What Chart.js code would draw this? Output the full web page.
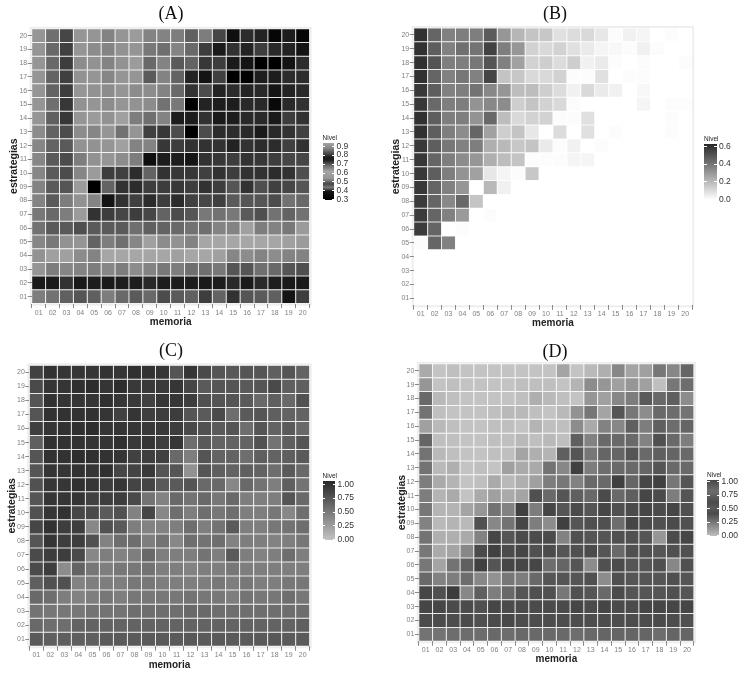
<!DOCTYPE html>
<html>
<head>
<meta charset="utf-8">
<title>Nivel</title>
<script src="https://cdn.jsdelivr.net/npm/chart.js@4"></script>
<style>
  html, body { margin: 0; padding: 0; background: #fff; overflow: hidden; }
  #page { position: relative; width: 747px; height: 677px; }
  canvas { position: absolute; filter: blur(0.7px); }
  .legend { position: absolute; font-family: "Liberation Sans", sans-serif; color: #222; filter: blur(0.4px); }
  .legend span { position: absolute; white-space: nowrap; }
  .legend i { position: absolute; background: #fff; height: 1px; width: 2.5px; }
</style>
</head>
<body>
<div id="page"></div>
<script>
var memoria = ['01','02','03','04','05','06','07','08','09','10','11','12','13','14','15','16','17','18','19','20'];
var estrategias = memoria.slice();

// rows go from estrategias 20 (top) down to 01
var nivelA = [
  [.81,.68,.54,.81,.81,.75,.81,.83,.75,.75,.73,.63,.73,.54,.35,.45,.42,.32,.40,.32],
  [.81,.66,.52,.81,.78,.75,.80,.81,.71,.68,.75,.66,.51,.39,.47,.42,.51,.44,.42,.37],
  [.81,.66,.51,.78,.80,.75,.80,.83,.66,.75,.61,.64,.49,.51,.39,.37,.30,.30,.37,.45],
  [.81,.64,.52,.80,.81,.76,.81,.81,.61,.75,.64,.42,.37,.52,.30,.30,.40,.40,.45,.45],
  [.81,.64,.51,.81,.80,.78,.81,.78,.78,.75,.66,.47,.56,.42,.45,.42,.44,.37,.42,.44],
  [.81,.68,.49,.80,.81,.78,.81,.80,.78,.69,.71,.30,.42,.40,.40,.44,.44,.33,.44,.47],
  [.81,.63,.49,.81,.83,.80,.85,.73,.68,.75,.40,.40,.47,.39,.40,.44,.44,.39,.51,.47],
  [.78,.64,.56,.78,.76,.81,.69,.81,.52,.49,.56,.30,.56,.45,.45,.44,.39,.44,.47,.52],
  [.76,.64,.61,.80,.80,.81,.85,.75,.75,.49,.51,.47,.47,.47,.42,.47,.45,.45,.52,.47],
  [.76,.61,.56,.73,.80,.81,.78,.73,.35,.40,.40,.37,.47,.49,.51,.47,.49,.51,.54,.54],
  [.76,.61,.56,.76,.83,.51,.52,.45,.64,.47,.49,.49,.52,.47,.51,.47,.47,.45,.47,.57],
  [.75,.61,.59,.83,.30,.64,.47,.45,.51,.51,.49,.51,.47,.51,.59,.47,.57,.52,.54,.59],
  [.75,.61,.73,.80,.75,.37,.47,.52,.45,.51,.45,.52,.54,.52,.61,.59,.59,.56,.69,.66],
  [.71,.66,.73,.83,.47,.51,.54,.51,.54,.64,.56,.59,.71,.69,.71,.61,.57,.69,.64,.69],
  [.69,.61,.61,.57,.61,.61,.61,.68,.63,.64,.66,.69,.68,.75,.75,.85,.73,.75,.71,.83],
  [.76,.71,.80,.81,.64,.73,.68,.76,.85,.78,.80,.75,.87,.87,.87,.87,.87,.87,.85,.83],
  [.80,.85,.85,.78,.75,.87,.87,.87,.87,.87,.85,.87,.87,.85,.76,.78,.75,.78,.75,.75],
  [.81,.73,.76,.75,.73,.76,.73,.78,.75,.71,.73,.68,.68,.71,.59,.59,.68,.66,.59,.57],
  [.39,.39,.47,.39,.40,.39,.40,.40,.44,.40,.40,.40,.39,.40,.44,.39,.44,.40,.39,.39],
  [.73,.69,.63,.59,.63,.73,.66,.61,.66,.56,.61,.63,.51,.64,.47,.59,.61,.63,.37,.51]
];
var nivelB = [
  [.59,.44,.36,.37,.37,.47,.30,.21,.17,.16,.09,.10,.11,.07,.01,.04,.03,0,.01,0],
  [.59,.46,.36,.41,.40,.54,.37,.30,.13,.11,.13,.09,.06,.03,.02,.01,.04,.01,0,0],
  [.59,.49,.37,.37,.39,.49,.36,.27,.13,.14,.10,.14,.04,.06,.01,0,.01,0,0,.01],
  [.59,.44,.36,.39,.36,.53,.17,.16,.11,.11,.13,.01,.01,.09,0,.01,.01,0,0,0],
  [.57,.46,.36,.37,.40,.34,.30,.19,.19,.14,.10,.04,.11,.06,.04,0,.02,0,0,0],
  [.57,.43,.37,.37,.31,.34,.33,.14,.17,.13,.11,.01,0,0,0,0,.03,0,.01,.01],
  [.59,.46,.37,.37,.31,.43,.19,.11,.13,.13,.01,.01,.09,0,0,0,0,0,.01,0],
  [.59,.46,.37,.33,.44,.27,.14,.17,.07,0,.10,0,.09,0,.01,0,0,0,.01,0],
  [.57,.46,.39,.36,.37,.23,.20,.16,.17,.06,.01,.04,0,.01,0,0,0,0,0,0],
  [.57,.44,.37,.33,.30,.23,.19,.17,.01,.01,.01,.03,.03,0,0,0,0,0,0,0],
  [.57,.46,.37,.31,.27,.07,.03,.01,.16,0,0,0,0,0,0,0,0,0,0,0],
  [.57,.44,.36,.30,0,.20,.04,0,0,0,0,0,0,0,0,0,0,0,0,0],
  [.56,.44,.34,.43,.17,0,0,0,0,0,0,0,0,0,0,0,0,0,0,0],
  [.56,.44,.36,.29,0,.01,0,0,0,0,0,0,0,0,0,0,0,0,0,0],
  [.56,.44,0,.01,0,0,0,0,0,0,0,0,0,0,0,0,0,0,0,0],
  [.01,.44,.36,0,0,0,0,0,0,0,0,0,0,0,0,0,0,0,0,0],
  [0,0,0,0,0,0,0,0,0,0,0,0,0,0,0,0,0,0,0,0],
  [0,0,0,0,0,0,0,0,0,0,0,0,0,0,0,0,0,0,0,0],
  [0,0,0,0,0,0,0,0,0,0,0,0,0,0,0,0,0,0,0,0],
  [0,0,0,0,0,0,0,0,0,0,0,0,0,0,0,0,0,0,0,0]
];
var nivelC = [
  [.87,.97,.95,.95,.95,.97,.95,.98,.97,.95,.74,.94,.81,.74,.72,.74,.74,.68,.74,.65],
  [.81,.95,.95,.98,1,.95,1,.92,.92,.92,.94,.84,.71,.74,.74,.71,.74,.81,.68,.68],
  [.74,.97,.95,.95,.95,.98,.94,.92,.87,.94,.94,.90,.77,.74,.74,.71,.61,.68,.61,.77],
  [.74,.97,.97,.97,.97,.95,.87,.95,.89,.90,.90,.74,.71,.81,.58,.71,.74,.68,.65,.65],
  [.89,.95,.97,.98,1,.95,.95,.94,.92,.92,.90,.81,.77,.71,.74,.58,.74,.65,.71,.61],
  [.68,.97,.97,.97,.95,.95,.98,.92,.94,.90,.94,.58,.71,.65,.65,.65,.77,.55,.68,.74],
  [.74,.97,.97,1,.98,.97,.95,.87,.89,.87,.61,.48,.74,.65,.65,.58,.68,.65,.68,.71],
  [.74,.95,.95,.97,.95,.98,.84,.85,.92,.74,.74,.35,.74,.68,.65,.68,.65,.58,.71,.61],
  [.77,.94,.94,.98,.95,.90,.94,.85,.85,.71,.71,.74,.61,.61,.42,.61,.55,.48,.68,.55],
  [.74,.95,.94,.95,.87,.89,.90,.81,.55,.45,.61,.55,.61,.52,.61,.48,.48,.48,.74,.61],
  [.77,.94,.97,.84,.81,.71,.77,.45,.84,.42,.58,.48,.58,.52,.58,.48,.48,.52,.42,.58],
  [.84,.97,.89,.90,.42,.77,.71,.48,.45,.45,.48,.58,.48,.55,.71,.48,.48,.52,.55,.58],
  [.74,.95,.89,.90,.77,.45,.58,.58,.48,.55,.42,.58,.55,.58,.45,.48,.48,.45,.48,.52],
  [.81,.90,.90,.81,.42,.48,.45,.48,.61,.48,.48,.48,.55,.48,.71,.48,.45,.48,.58,.48],
  [.81,.90,.39,.65,.52,.48,.52,.52,.55,.48,.48,.45,.48,.48,.52,.48,.48,.48,.48,.48],
  [.68,.77,.77,.45,.48,.48,.48,.52,.52,.48,.48,.48,.48,.52,.48,.52,.48,.48,.52,.52],
  [.61,.58,.48,.45,.48,.52,.48,.52,.52,.52,.52,.55,.52,.52,.48,.55,.52,.52,.58,.52],
  [.55,.52,.52,.52,.55,.55,.55,.58,.58,.58,.58,.61,.61,.58,.58,.58,.58,.58,.58,.58],
  [.61,.58,.58,.65,.65,.65,.65,.65,.65,.65,.65,.65,.65,.65,.65,.65,.65,.65,.65,.68],
  [.71,.68,.68,.68,.68,.71,.71,.71,.71,.71,.71,.72,.71,.71,.71,.71,.71,.72,.71,.71]
];
var nivelD = [
  [.24,.07,.10,.07,.07,.07,.07,.07,.07,.07,.28,.07,.14,.21,.48,.28,.31,.59,.48,.72],
  [.38,.07,.10,.07,.07,.07,.07,.10,.10,.10,.07,.17,.45,.38,.31,.38,.31,.10,.59,.66],
  [.69,.14,.10,.07,.07,.07,.07,.10,.21,.14,.10,.07,.38,.31,.48,.55,.79,.69,.76,.45],
  [.62,.10,.07,.07,.07,.10,.14,.14,.10,.07,.14,.41,.59,.28,.83,.59,.45,.69,.66,.62],
  [.31,.14,.10,.07,.07,.10,.10,.07,.17,.10,.10,.45,.24,.52,.48,.76,.55,.76,.66,.72],
  [.72,.10,.10,.07,.07,.10,.10,.14,.10,.14,.10,.76,.52,.69,.69,.69,.52,.86,.69,.55],
  [.62,.14,.10,.07,.07,.10,.10,.28,.21,.17,.76,.83,.59,.72,.72,.83,.69,.76,.72,.69],
  [.62,.14,.21,.07,.10,.07,.31,.24,.24,.62,.48,.97,.55,.66,.69,.69,.72,.83,.69,.69],
  [.55,.24,.17,.07,.10,.24,.14,.21,.31,.55,.59,.52,.69,.69,.97,.72,.93,.97,.59,.83],
  [.55,.17,.24,.07,.24,.31,.24,.28,.86,.69,.83,.76,.69,.90,.69,.76,.93,.90,.55,.83],
  [.59,.17,.17,.28,.38,.62,.52,.97,.55,.93,.83,.90,.83,.93,.86,.90,.93,.90,.93,.86],
  [.52,.14,.17,.14,.86,.48,.62,.93,.55,.45,.97,.83,.86,.86,.66,.93,.90,.86,.90,.86],
  [.62,.21,.21,.24,.52,.93,.83,.90,.90,.90,.52,.86,.83,.83,.86,.86,.83,.38,.90,.93],
  [.59,.24,.28,.48,.90,.97,.90,.93,.86,.90,.83,.86,.90,.83,.69,.86,.86,.83,.86,.86],
  [.59,.28,.62,.76,.97,.83,.93,.93,.93,.66,.72,.83,.45,.86,.90,.83,.83,.86,.48,.86],
  [.69,.52,.55,.66,.48,.41,.59,.55,.69,.83,.83,.83,.86,.45,.86,.83,.83,.83,.86,.83],
  [.93,.86,1,.48,.76,.55,.69,.83,.86,.86,.59,.86,.83,.69,.90,.83,.83,.83,.86,.83],
  [.93,.93,.90,.90,.86,.93,.90,.90,.90,.90,.90,.93,.90,.93,.90,.90,.93,.93,.93,.93],
  [.90,.90,.88,.90,.86,.90,.92,.88,.88,.88,.88,.88,.88,.88,.88,.88,.88,.90,.88,.86],
  [.62,.62,.66,.66,.66,.69,.66,.69,.69,.69,.69,.66,.69,.72,.72,.72,.72,.66,.72,.72]
];

var legendA = ['0.9','0.8','0.7','0.6','0.5','0.4','0.3'];
var legendB = ['0.6','0.4','0.2','0.0'];
var legendC = ['1.00','0.75','0.50','0.25','0.00'];
var legendD = ['1.00','0.75','0.50','0.25','0.00'];

function grey(g) { return 'rgb(' + g + ',' + g + ',' + g + ')'; }

// light strip round the cells, and the title moved to its own centre
var panelBack = {
  id: 'panelBack',
  afterLayout: function (chart, args, opts) {
    var t = chart.titleBlock;
    t.left = 2 * opts.titleX - t.right;
  },
  beforeDraw: function (chart) {
    var a = chart.chartArea, ctx = chart.ctx;
    ctx.save();
    ctx.fillStyle = '#eeeeee';
    ctx.fillRect(a.left - 2, a.top - 2, a.right - a.left + 4, a.bottom - a.top + 4);
    ctx.fillStyle = '#ffffff';
    ctx.fillRect(a.left, a.top, a.right - a.left, a.bottom - a.top);
    ctx.restore();
  }
};

function drawPanel(p) {
  var cv = document.createElement('canvas');
  cv.width = p.box[2];
  cv.height = p.box[3];
  cv.style.left = p.box[0] + 'px';
  cv.style.top = p.box[1] + 'px';
  document.getElementById('page').appendChild(cv);

  var yWidth = p.area[0] - p.box[0];
  var topGap = p.area[2] - p.box[1];
  var xHeight = p.box[1] + p.box[3] - p.area[3];

  function cellGrey(v) {
    var t = (v - p.range[0]) / (p.range[1] - p.range[0]);
    return p.greys[0] + t * (p.greys[1] - p.greys[0]);
  }

  // one stacked dataset per row, each cell has height 1
  var datasets = [];
  for (var r = 19; r >= 0; r--) {
    datasets.push({
      data: memoria.map(function () { return 1; }),
      nivel: p.rows[r],
      backgroundColor: p.rows[r].map(function (v) { return grey(Math.round(cellGrey(v))); }),
      // separators are washed out in the reference, so mix white with the cell
      borderColor: p.rows[r].map(function (v) {
        var g = cellGrey(v);
        return grey(Math.round(g + (255 - g) * 0.72));
      }),
      borderWidth: 0.5,
      borderSkipped: false,
      inflateAmount: 0,
      barPercentage: 1,
      categoryPercentage: 1
    });
  }

  new Chart(cv, {
    type: 'bar',
    data: { labels: memoria, datasets: datasets },
    plugins: [panelBack],
    options: {
      responsive: false,
      animation: false,
      layout: { padding: { left: 0, right: p.box[0] + p.box[2] - p.area[1], top: 0, bottom: 0 } },
      plugins: {
        legend: { display: false },
        tooltip: { enabled: false },
        panelBack: { titleX: p.titleX - p.box[0] },
        title: {
          display: true,
          text: p.title,
          color: '#111',
          font: { family: '"Liberation Serif", serif', size: 18, weight: 'normal', lineHeight: 1.2 },
          padding: { top: p.titleY - p.box[1] - 10.8, bottom: topGap - (p.titleY - p.box[1]) - 10.8 }
        }
      },
      scales: {
        x: {
          stacked: true,
          afterFit: function (s) { s.height = xHeight; },
          grid: { drawOnChartArea: false, drawTicks: true, tickLength: 4.5, color: '#8a8a8a' },
          border: { display: false },
          ticks: {
            autoSkip: false, maxRotation: 0, padding: 0.5, color: '#7f7f7f',
            font: { family: '"Liberation Sans", sans-serif', size: 7 }
          },
          title: {
            display: true, text: 'memoria', color: '#222',
            font: { family: '"Liberation Sans", sans-serif', size: 10, weight: 'bold', lineHeight: 1.2 },
            padding: { top: 0, bottom: p.box[1] + p.box[3] - p.xTitleY - 6 }
          }
        },
        y: {
          stacked: true,
          min: 0,
          max: 20,
          afterFit: function (s) { s.width = yWidth; },
          // ticks sit on the row centres
          afterBuildTicks: function (s) {
            s.ticks = estrategias.map(function (c, i) { return { value: i + 0.5 }; });
          },
          grid: { drawOnChartArea: false, drawTicks: true, tickLength: 4, color: '#8a8a8a' },
          border: { display: false },
          ticks: {
            autoSkip: false, padding: 0.5, color: '#7f7f7f',
            font: { family: '"Liberation Sans", sans-serif', size: 7 },
            callback: function (v) { return estrategias[Math.floor(v)]; }
          },
          title: {
            display: true, text: 'estrategias', color: '#222',
            font: { family: '"Liberation Sans", sans-serif', size: 10.5, weight: 'bold', lineHeight: 1.2 },
            padding: { top: p.yTitleX - p.box[0] - 6, bottom: 0 }
          }
        }
      }
    }
  });

  drawLegend(p.legend);
}

function drawLegend(l) {
  var stops = l.stops.map(function (s) { return grey(s[1]) + ' ' + (s[0] * 100) + '%'; });
  var box = document.createElement('div');
  box.className = 'legend';
  box.style.left = l.x + 'px';
  box.style.top = l.y + 'px';
  box.style.width = l.w + 'px';
  box.style.height = l.h + 'px';
  box.style.background = 'linear-gradient(to bottom, ' + stops.join(', ') + ')';

  var head = document.createElement('span');
  head.textContent = 'Nivel';
  head.style.left = '0px';
  head.style.top = '-9.5px';
  head.style.fontSize = '6.5px';
  box.appendChild(head);

  l.labels.forEach(function (t, i) {
    var yy = l.first + i * (l.last - l.first) / (l.labels.length - 1);
    var s = document.createElement('span');
    s.textContent = t;
    s.style.left = (l.w + 2.5) + 'px';
    s.style.top = (yy - 5.5) + 'px';
    s.style.fontSize = '8.5px';
    s.style.lineHeight = '11px';
    s.style.color = '#333';
    box.appendChild(s);
    var a = document.createElement('i'), b = document.createElement('i');
    a.style.left = '0px';
    b.style.right = '0px';
    a.style.top = b.style.top = yy + 'px';
    box.appendChild(a);
    box.appendChild(b);
  });
  document.getElementById('page').appendChild(box);
}

drawPanel({
  title: '(A)', rows: nivelA, range: [0.3, 0.9], greys: [0, 175],
  box: [0, 0, 343, 331], area: [31.7, 309.6, 28.8, 303.6],
  titleX: 171, titleY: 14, xTitleY: 322.5, yTitleX: 14,
  legend: {
    x: 322.5, y: 143, w: 11.5, h: 57, labels: legendA, first: 3, last: 56,
    stops: [[0, 165], [.1, 130], [.25, 30], [.3, 30], [.4, 110], [.5, 165], [.62, 150], [.72, 70], [.78, 120], [.85, 20], [1, 0]]
  }
});
drawPanel({
  title: '(B)', rows: nivelB, range: [0, 0.6], greys: [255, 45],
  box: [375, 0, 360, 331], area: [413.7, 692.2, 28, 305.3],
  titleX: 555, titleY: 14, xTitleY: 323.5, yTitleX: 396,
  legend: {
    x: 704, y: 144, w: 12.5, h: 56, labels: legendB, first: 2, last: 55,
    stops: [[0, 40], [1, 255]]
  }
});
drawPanel({
  title: '(C)', rows: nivelC, range: [0, 1], greys: [200, 45],
  box: [0, 335, 343, 340], area: [29.3, 309.7, 365.3, 646.3],
  titleX: 171, titleY: 351, xTitleY: 665, yTitleX: 12,
  legend: {
    x: 322.5, y: 481, w: 12.5, h: 59, labels: legendC, first: 3, last: 58,
    stops: [[0, 40], [1, 195]]
  }
});
drawPanel({
  title: '(D)', rows: nivelD, range: [0, 1], greys: [205, 60],
  box: [375, 335, 360, 340], area: [418.8, 693.9, 363.8, 641.3],
  titleX: 555, titleY: 352, xTitleY: 659.5, yTitleX: 402,
  legend: {
    x: 707, y: 480, w: 12, h: 56, labels: legendD, first: 1, last: 55,
    stops: [[0, 70], [.2, 110], [.4, 75], [.5, 90], [.6, 75], [1, 190]]
  }
});
</script>
</body>
</html>
